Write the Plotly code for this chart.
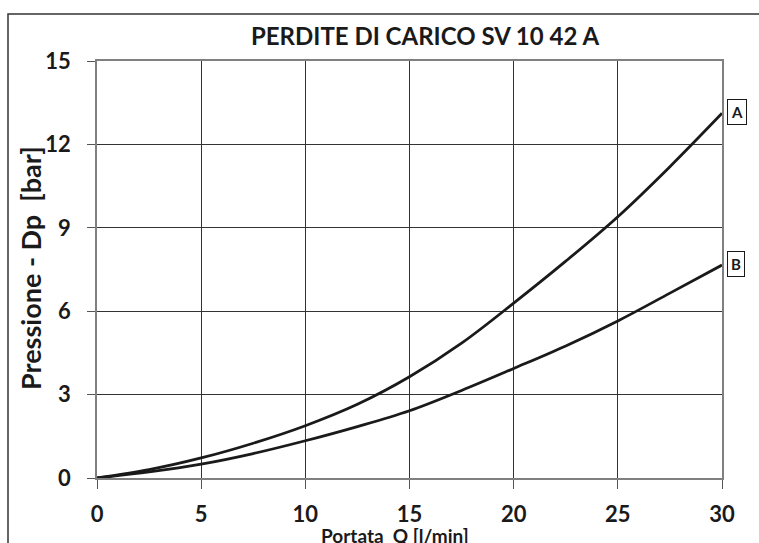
import plotly.graph_objects as go

# Data
flow_q = [0, 2.5, 5, 7.5, 10, 12.5, 15, 17.5, 20, 22.5, 25, 27.5, 30]
curve_a = [0, 0.3, 0.72, 1.25, 1.88, 2.65, 3.64, 4.85, 6.29, 7.8, 9.4, 11.2, 13.12]
curve_b = [0, 0.22, 0.5, 0.88, 1.34, 1.85, 2.42, 3.15, 3.94, 4.75, 5.65, 6.65, 7.66]
x_ticks = [0, 5, 10, 15, 20, 25, 30]
y_ticks = [0, 3, 6, 9, 12, 15]
labels = ["A", "B"]

FONT = "Lato"
W, H = 759, 543
L, R, T, B = 97, 37, 61, 65
PW, PH = W - L - R, H - T - B

fig = go.Figure()
for ys in (curve_a, curve_b):
    fig.add_trace(go.Scatter(x=flow_q, y=ys, mode="lines",
                             line=dict(color="#1a1a1a", width=2.8, shape="spline"),
                             showlegend=False, hoverinfo="skip"))

for lab, ys in zip(labels, (curve_a, curve_b)):
    fig.add_annotation(x=flow_q[-1], y=ys[-1], xref="x", yref="y", text="<b>" + lab + "</b>",
                       showarrow=False, xanchor="left", yanchor="middle", xshift=5, yshift=1,
                       font=dict(family=FONT, size=15, color="#1a1a1a"),
                       bordercolor="#1a1a1a", borderwidth=1, borderpad=3, bgcolor="white")

# Y axis title
fig.add_annotation(x=(30 - L) / PW, y=(H - B - 268) / PH, xref="paper", yref="paper",
                   xanchor="center", yanchor="middle",
                   text="<b>Pressione - Dp  [bar]</b>", textangle=-90, showarrow=False,
                   font=dict(family=FONT, size=27, color="#1a1a1a"))
# X axis title
fig.add_annotation(x=(395 - L) / PW, y=-(535 - (H - B)) / PH, xref="paper", yref="paper",
                   xanchor="center", yanchor="middle",
                   text="<b>Portata  Q [l/min]</b>", showarrow=False,
                   font=dict(family=FONT, size=19, color="#1a1a1a"))

# outer frame
fig.add_shape(type="rect", xref="paper", yref="paper",
              x0=(8 - L) / PW, x1=(W + 20 - L) / PW,
              y0=-(H + 20 - (H - B)) / PH, y1=(H - B - 14) / PH,
              line=dict(color="#333333", width=1.5), layer="below")

fig.update_layout(
    width=W, height=H,
    margin=dict(l=L, r=R, t=T, b=B),
    paper_bgcolor="white", plot_bgcolor="white",
    title=dict(text="<b>PERDITE DI CARICO SV 10 42 A</b>", x=425 / W, xanchor="center",
               y=1 - 37 / H, yanchor="middle", xref="container", yref="container",
               font=dict(family=FONT, size=24, color="#1a1a1a")),
    xaxis=dict(range=[0, 30], tickvals=x_ticks, ticktext=["<b>%d</b>" % v for v in x_ticks],
               showgrid=True, gridcolor="#333333", gridwidth=1,
               showline=True, linecolor="#808080", linewidth=1.5, mirror=True,
               ticks="outside", ticklen=9, tickcolor="#555555", tickwidth=1,
               ticklabelstandoff=7, zeroline=False,
               tickfont=dict(family=FONT, size=22, color="#1a1a1a")),
    yaxis=dict(range=[0, 15], tickvals=y_ticks, ticktext=["<b>%d</b>" % v for v in y_ticks],
               showgrid=True, gridcolor="#333333", gridwidth=1,
               showline=True, linecolor="#808080", linewidth=1.5, mirror=True,
               ticks="outside", ticklen=8, tickcolor="#555555", tickwidth=1,
               ticklabelstandoff=12, zeroline=False,
               tickfont=dict(family=FONT, size=22, color="#1a1a1a")),
)

fig.write_html("out.html", config={"displayModeBar": False},
               post_script="document.body.style.margin='0';document.body.style.padding='0';")
